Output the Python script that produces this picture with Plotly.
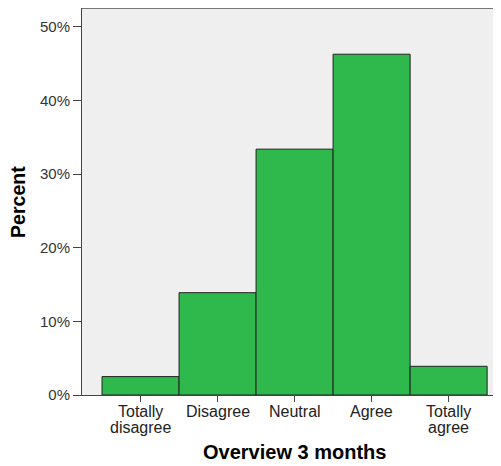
import plotly.graph_objects as go

categories = ["Totally\ndisagree", "Disagree", "Neutral", "Agree", "Totally\nagree"]
percents = [2.5, 13.9, 33.4, 46.3, 3.9]
y_ticks = [0, 10, 20, 30, 40, 50]
y_tick_labels = ["0%", "10%", "20%", "30%", "40%", "50%"]

fig = go.Figure()
fig.add_trace(go.Bar(
    x=list(range(len(categories))),
    y=percents,
    width=1.0,
    marker=dict(color="#2fb84b", line=dict(color="#222222", width=1)),
))

font_family = "Liberation Sans, Arial, sans-serif"

annotations = []
# category labels as text under each tick, with tight line spacing
for i, cat in enumerate(categories):
    for j, line in enumerate(cat.split("\n")):
        annotations.append(dict(
            text=line, xref="x", yref="paper", x=i, y=0, yshift=-16 - 16 * j,
            xanchor="center", yanchor="middle", showarrow=False,
            font=dict(size=16, color="#222222"),
        ))
annotations += [
    dict(text="<b>Overview 3 months</b>", xref="paper", yref="paper",
         x=0.508, y=0, yshift=-57, xanchor="center", yanchor="middle",
         showarrow=False, font=dict(size=20, color="#000000")),
    dict(text="<b>Percent</b>", xref="paper", yref="paper",
         x=0, xshift=-64, y=0.499, xanchor="center", yanchor="middle",
         textangle=-90, showarrow=False, font=dict(size=19.5, color="#000000")),
]

fig.update_layout(
    width=493, height=458,
    margin=dict(l=74, r=0, t=0, b=71, pad=0),
    paper_bgcolor="white",
    plot_bgcolor="#efefef",
    showlegend=False,
    font=dict(family=font_family, size=14, color="#222222"),
    xaxis=dict(
        tickmode="array",
        tickvals=list(range(len(categories))),
        showticklabels=False,
        range=[-0.76, 4.68],
        showline=True, linecolor="#444444", linewidth=1,
        ticks="outside", ticklen=6, tickcolor="#444444",
        showgrid=False, zeroline=False,
    ),
    yaxis=dict(
        tickmode="array",
        tickvals=y_ticks,
        ticktext=y_tick_labels,
        range=[0, 52.58],
        showline=True, linecolor="#444444", linewidth=1,
        ticks="outside", ticklen=8, tickcolor="#444444",
        showgrid=False, zeroline=False,
        tickfont=dict(size=15, color="#333333"),
    ),
    shapes=[dict(type="line", xref="paper", yref="paper", x0=0, x1=1, y0=1, y1=1,
                 line=dict(color="#777777", width=2))],
    annotations=annotations,
)

fig.write_html("out.html")
